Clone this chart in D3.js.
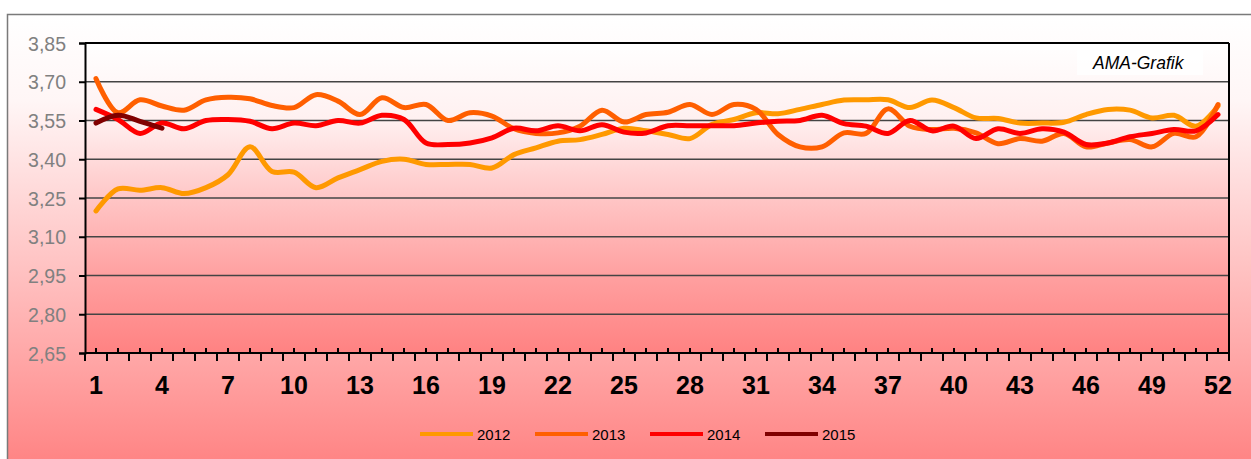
<!DOCTYPE html>
<html><head><meta charset="utf-8">
<script src="https://cdn.jsdelivr.net/npm/d3@7"></script>
<style>html,body{margin:0;padding:0;background:#fff;}svg{display:block;}</style>
</head><body>
<svg id="chart" width="1251" height="459"></svg>
<script>
const weeks = d3.range(1, 53);
const tickWeeks = [1,4,7,10,13,16,19,22,25,28,31,34,37,40,43,46,49,52];
const yTicks = [2.65,2.80,2.95,3.10,3.25,3.40,3.55,3.70,3.85];
const seriesNames = ["2012","2013","2014","2015"];
const colors = ["#FF9900","#FF5F00","#FF0000","#800000"];

const v2012 = [3.20,3.285,3.28,3.29,3.267,3.29,3.34,3.448,3.353,3.35,3.29,3.328,3.36,3.392,3.40,3.38,3.38,3.38,3.366,3.418,3.444,3.47,3.476,3.496,3.52,3.51,3.496,3.48,3.535,3.554,3.58,3.576,3.593,3.612,3.629,3.63,3.63,3.60,3.629,3.60,3.56,3.558,3.54,3.54,3.543,3.573,3.593,3.59,3.56,3.57,3.528,3.606];
const v2013 = [3.712,3.58,3.63,3.606,3.59,3.63,3.64,3.634,3.608,3.60,3.65,3.625,3.573,3.638,3.60,3.612,3.55,3.58,3.567,3.518,3.50,3.502,3.528,3.59,3.544,3.573,3.582,3.612,3.573,3.612,3.593,3.496,3.448,3.448,3.502,3.50,3.595,3.528,3.515,3.52,3.502,3.46,3.48,3.47,3.50,3.448,3.463,3.476,3.448,3.50,3.487,3.612];
const v2014 = [3.593,3.554,3.50,3.54,3.518,3.55,3.554,3.547,3.518,3.54,3.53,3.55,3.54,3.57,3.554,3.463,3.457,3.463,3.483,3.52,3.51,3.53,3.51,3.534,3.505,3.502,3.53,3.53,3.53,3.53,3.54,3.547,3.55,3.57,3.538,3.528,3.50,3.55,3.51,3.528,3.48,3.518,3.50,3.518,3.505,3.457,3.463,3.487,3.50,3.515,3.51,3.573];
const v2015 = [3.54,3.57,3.547,3.52];

const svg = d3.select("#chart");
const defs = svg.append("defs");
const g1 = defs.append("linearGradient").attr("id","bgV").attr("x1",0).attr("y1",0).attr("x2",0).attr("y2",1);
[[0,"#FFFFFF"],[0.187,"#FFF6F6"],[0.36,"#FFDDDD"],[0.737,"#FFA8A8"],[0.967,"#FF8585"],[1,"#FF8383"]]
  .forEach(s => g1.append("stop").attr("offset", s[0]).attr("stop-color", s[1]));
const g2 = defs.append("linearGradient").attr("id","bgP").attr("x1",0).attr("y1",0).attr("x2",0).attr("y2",1);
[[0,"#FFFFFF"],[0.25,"#FFF0F0"],[0.5,"#FFC6C6"],[0.75,"#FFA0A0"],[1,"#FF8282"]]
  .forEach(s => g2.append("stop").attr("offset", s[0]).attr("stop-color", s[1]));

svg.append("rect").attr("x",7.5).attr("y",14.5).attr("width",1260).attr("height",460).attr("fill","url(#bgV)")
  .attr("stroke","#7a7a7a").attr("stroke-width",1.5);

const L = 85, R = 1229, T = 43, B = 353;
svg.append("rect").attr("x", L).attr("y", T).attr("width", R - L).attr("height", B - T).attr("fill", "url(#bgP)");

const x = d3.scaleBand().domain(weeks).range([L, R]).padding(0);
const y = d3.scaleLinear().domain([2.65, 3.85]).range([B, T]);
const fmt = v => d3.format(".2f")(v).replace(".", ",");

// gridlines
svg.append("g").selectAll("line").data(yTicks.filter(d => d > 2.66 && d < 3.84)).join("line")
  .attr("x1", L).attr("x2", R).attr("y1", d => y(d)).attr("y2", d => y(d))
  .attr("stroke", "#444").attr("stroke-width", 1.6);
svg.append("line").attr("x1", L).attr("x2", R).attr("y1", T).attr("y2", T).attr("stroke", "#000").attr("stroke-width", 2);
svg.append("line").attr("x1", R).attr("x2", R).attr("y1", T).attr("y2", B).attr("stroke", "#000").attr("stroke-width", 2);

// AMA-Grafik label
svg.append("rect").attr("x", 1077).attr("y", 50).attr("width", 126).attr("height", 25).attr("fill", "#fff").attr("opacity", 0.8);
svg.append("text").attr("x", 1093).attr("y", 69).attr("font-family", "Liberation Sans, Arial, sans-serif")
  .attr("font-style", "italic").attr("font-size", 17.5).attr("fill", "#000").text("AMA-Grafik");

// y axis
const yAxis = d3.axisLeft(y).tickValues(yTicks).tickFormat(fmt).tickSize(6).tickPadding(13);
const ya = svg.append("g").attr("transform", `translate(${L},0)`).call(yAxis);
ya.select(".domain").attr("stroke", "#000").attr("stroke-width", 2);
ya.selectAll(".tick line").attr("stroke", "#000").attr("stroke-width", 2);
ya.selectAll(".tick text").attr("font-family", "Liberation Sans, Arial, sans-serif").attr("font-size", 19.5).attr("fill", "#808080").attr("dy", "0.36em");

// x axis: boundary ticks below, centre ticks above
const xa = svg.append("g");
xa.append("line").attr("x1", L).attr("x2", R).attr("y1", B).attr("y2", B).attr("stroke", "#000").attr("stroke-width", 2);
const bounds = weeks.map(w => x(w)).concat([R]);
xa.selectAll("line.b").data(bounds).join("line").attr("class", "b")
  .attr("x1", d => d).attr("x2", d => d).attr("y1", B).attr("y2", B + 8).attr("stroke", "#000").attr("stroke-width", 2);
xa.selectAll("line.c").data(weeks).join("line").attr("class", "c")
  .attr("x1", d => x(d) + x.bandwidth()/2).attr("x2", d => x(d) + x.bandwidth()/2).attr("y1", B - 5).attr("y2", B).attr("stroke", "#000").attr("stroke-width", 2);
xa.selectAll("text").data(tickWeeks).join("text")
  .attr("x", d => x(d) + x.bandwidth()/2).attr("y", 394).attr("text-anchor", "middle")
  .attr("font-family", "Liberation Sans, Arial, sans-serif").attr("font-weight", "bold").attr("font-size", 25).attr("fill", "#000")
  .text(d => d);

// lines
const lineGen = d3.line().x((d, i) => x(weeks[i]) + x.bandwidth()/2).y(d => y(d)).curve(d3.curveCatmullRom.alpha(0.5));
const allSeries = [v2012, v2013, v2014, v2015];
svg.append("g").selectAll("path").data(allSeries).join("path")
  .attr("d", d => lineGen(d)).attr("fill", "none")
  .attr("stroke", (d, i) => colors[i]).attr("stroke-width", 5)
  .attr("stroke-linecap", "round").attr("stroke-linejoin", "round");

// legend
const legendX = [420, 535, 650, 765];
const lg = svg.append("g").selectAll("g").data(seriesNames).join("g");
lg.append("line").attr("x1", (d, i) => legendX[i]).attr("x2", (d, i) => legendX[i] + 53)
  .attr("y1", 434).attr("y2", 434).attr("stroke", (d, i) => colors[i]).attr("stroke-width", 4);
lg.append("text").attr("x", (d, i) => legendX[i] + 57).attr("y", 439.5)
  .attr("font-family", "Liberation Sans, Arial, sans-serif").attr("font-size", 15).attr("fill", "#000").text(d => d);
</script>
</body></html>
